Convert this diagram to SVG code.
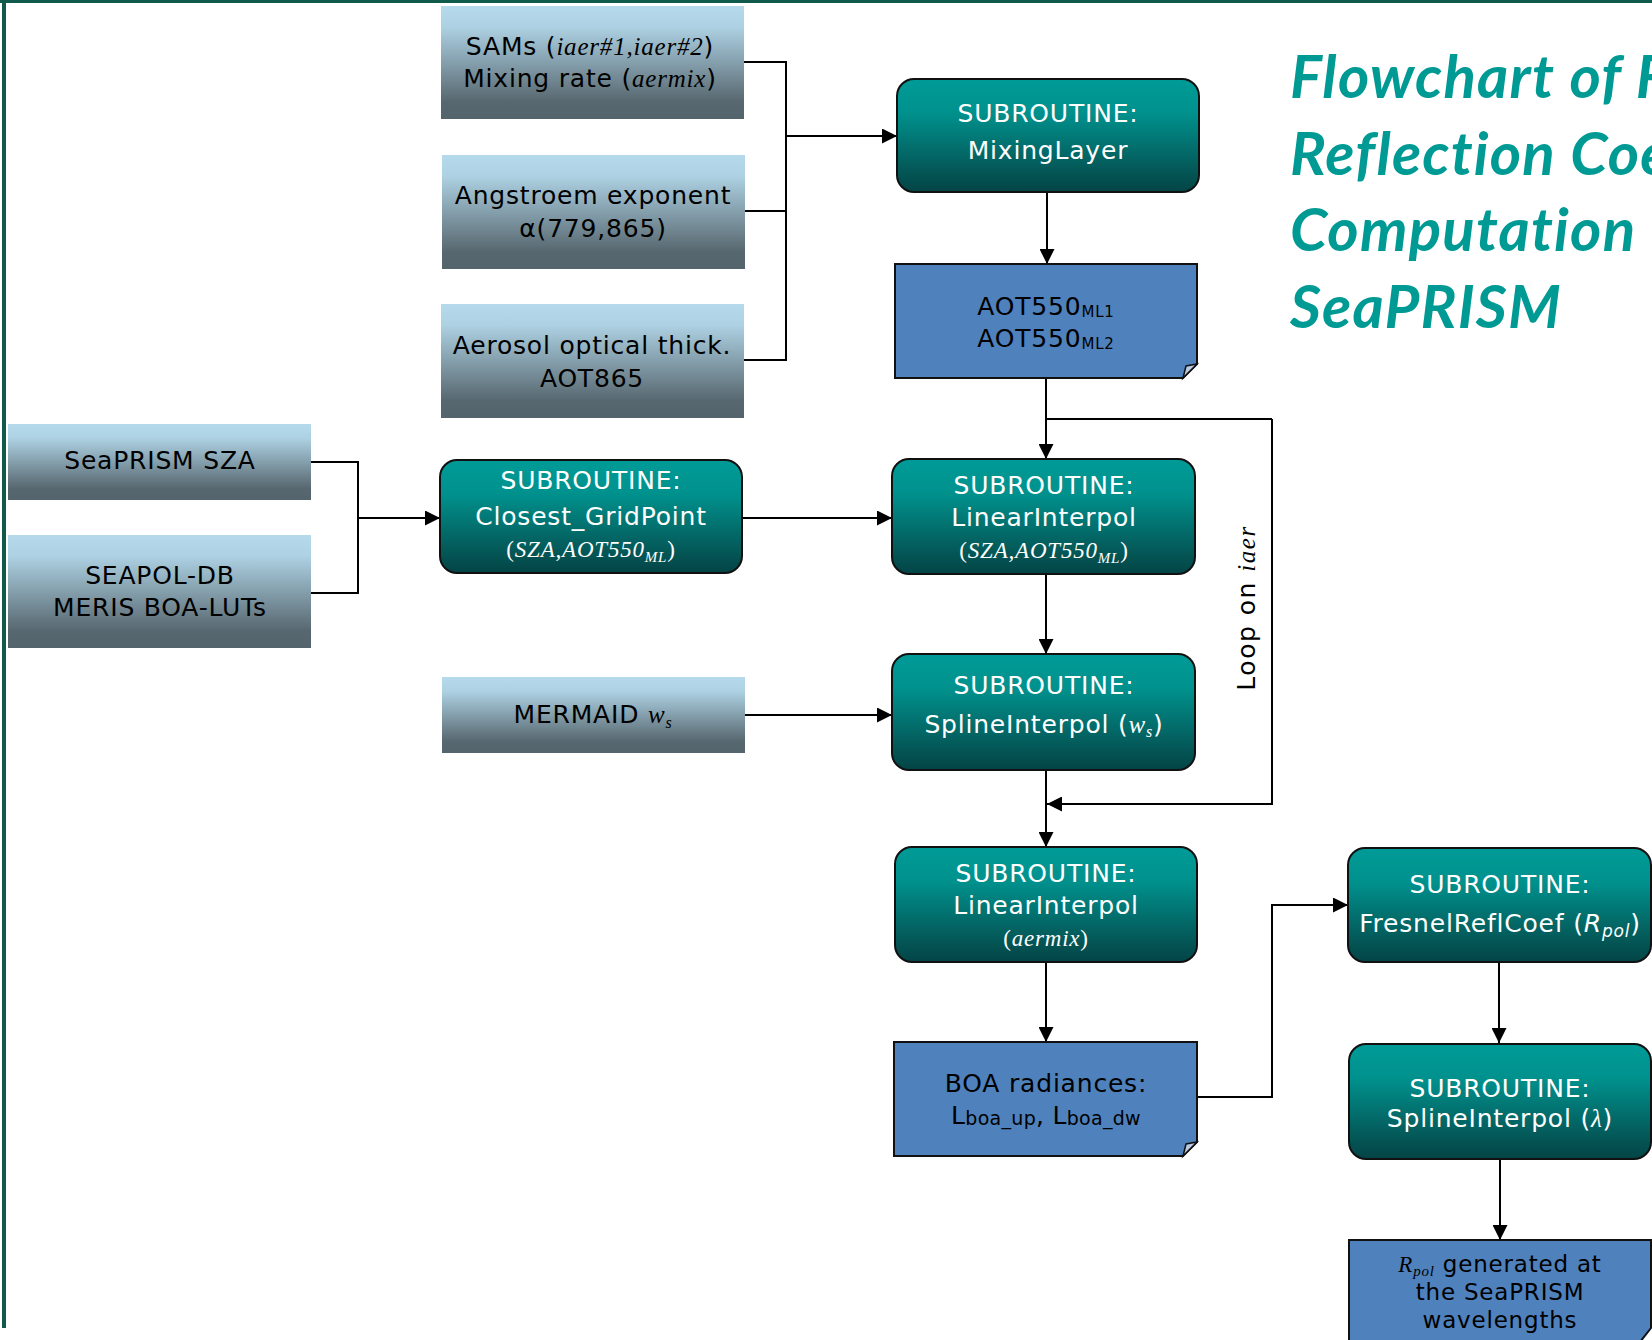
<svg xmlns="http://www.w3.org/2000/svg" width="1652" height="1340" viewBox="0 0 1652 1340">
<defs>
  <linearGradient id="gIn" x1="0" y1="0" x2="0" y2="1">
    <stop offset="0" stop-color="#b5daec"/>
    <stop offset="0.18" stop-color="#aed2e4"/>
    <stop offset="0.85" stop-color="#57676f"/>
    <stop offset="1" stop-color="#54646c"/>
  </linearGradient>
  <linearGradient id="gSub" x1="0" y1="0" x2="0" y2="1">
    <stop offset="0" stop-color="#009b97"/>
    <stop offset="0.3" stop-color="#00918d"/>
    <stop offset="0.85" stop-color="#045353"/>
    <stop offset="1" stop-color="#034446"/>
  </linearGradient>
  <marker id="arr" viewBox="0 0 10 10" refX="10" refY="5" markerUnits="userSpaceOnUse" markerWidth="16" markerHeight="15" orient="auto">
    <path d="M0,0 L10,5 L0,10 Z" fill="#000"/>
  </marker>
</defs>
<style>
  .t{font-family:"DejaVu Sans",Verdana,sans-serif;font-size:25px;letter-spacing:0.8px;text-anchor:middle}
  .dk{fill:#000}
  .wt{fill:#fff}
  .s{font-family:"Liberation Serif","Times New Roman",serif;font-style:italic}
  .sr{font-family:"Liberation Serif","Times New Roman",serif}
  .bin{fill:url(#gIn)}
  .bsub{fill:url(#gSub);stroke:#111;stroke-width:2}
  .doc{fill:#4f81bd;stroke:#111;stroke-width:2}
  .fold{fill:#b8c9e2;stroke:#111;stroke-width:1.5}
  .c{fill:none;stroke:#000;stroke-width:2}
  .ca{marker-end:url(#arr)}
  .title{font-family:Lato,"Open Sans",sans-serif;font-weight:700;font-style:italic;font-size:60px;letter-spacing:1.2px;fill:#009a94}
</style>
<rect width="1652" height="1340" fill="#fff"/>
<rect x="0" y="0" width="1652" height="3" fill="#0f5a4a"/>
<rect x="2" y="0" width="4" height="1328" fill="#0f5a4a"/>

<g id="title">
  <text class="title" x="1290" y="98">Flowchart of F</text>
  <text class="title" x="1290" y="175">Reflection Coe</text>
  <text class="title" x="1290" y="251">Computation f</text>
  <text class="title" x="1290" y="328">SeaPRISM</text>
</g>

<g id="connectors">
  <path class="c" d="M744,62 H786 V360 H744 M744,211 H786"/>
  <path class="c ca" d="M786,136 H897"/>
  <path class="c" d="M311,462 H358 V593 H309"/>
  <path class="c ca" d="M358,518 H440"/>
  <path class="c ca" d="M742,518 H892"/>
  <path class="c ca" d="M745,715 H892"/>
  <path class="c ca" d="M1047,192 V264"/>
  <path class="c ca" d="M1046,378 V459"/>
  <path class="c ca" d="M1272,419 H1046 M1272,419 V804 H1047"/>
  <path class="c ca" d="M1046,574 V654"/>
  <path class="c ca" d="M1046,770 V847"/>
  <path class="c ca" d="M1046,962 V1042"/>
  <path class="c ca" d="M1197,1097 H1272 V905 H1348"/>
  <path class="c ca" d="M1499,962 V1043"/>
  <path class="c ca" d="M1500,1159 V1240"/>
  <text class="t dk" transform="translate(1255,608) rotate(-90)" style="letter-spacing:1.5px">Loop on <tspan class="s">iaer</tspan></text>
</g>

<g id="n-sams">
  <rect class="bin" x="441" y="6" width="303" height="113"/>
  <text class="t dk" x="590" y="55">SAMs (<tspan class="s">iaer#1,iaer#2</tspan>)</text>
  <text class="t dk" x="590" y="87">Mixing rate (<tspan class="s">aermix</tspan>)</text>
</g>
<g id="n-angstroem">
  <rect class="bin" x="442" y="155" width="303" height="114"/>
  <text class="t dk" x="593" y="204">Angstroem exponent</text>
  <text class="t dk" x="593" y="237">α(779,865)</text>
</g>
<g id="n-aot865">
  <rect class="bin" x="441" y="304" width="303" height="114"/>
  <text class="t dk" x="592" y="354">Aerosol optical thick.</text>
  <text class="t dk" x="592" y="387">AOT865</text>
</g>
<g id="n-sza">
  <rect class="bin" x="8" y="424" width="303" height="76"/>
  <text class="t dk" x="160" y="469">SeaPRISM SZA</text>
</g>
<g id="n-seapol">
  <rect class="bin" x="8" y="535" width="303" height="113"/>
  <text class="t dk" x="160" y="584">SEAPOL-DB</text>
  <text class="t dk" x="160" y="616">MERIS BOA-LUTs</text>
</g>
<g id="n-mermaid">
  <rect class="bin" x="442" y="677" width="303" height="76"/>
  <text class="t dk" x="593" y="723">MERMAID <tspan class="s">w</tspan><tspan class="s" font-size="16" dy="5">s</tspan></text>
</g>
<g id="n-closest">
  <rect class="bsub" x="440" y="460" width="302" height="113" rx="17"/>
  <text class="t wt" x="591" y="489">SUBROUTINE:</text>
  <text class="t wt" x="591" y="525">Closest_GridPoint</text>
  <text class="t wt sr" x="591" y="557" style="font-size:23px">(<tspan class="s">SZA,AOT550</tspan><tspan class="s" font-size="15" dy="5">ML</tspan><tspan dy="-5">)</tspan></text>
</g>
<g id="n-mixing">
  <rect class="bsub" x="897" y="79" width="302" height="113" rx="17"/>
  <text class="t wt" x="1048" y="122">SUBROUTINE:</text>
  <text class="t wt" x="1048" y="159">MixingLayer</text>
</g>
<g id="n-aot550">
  <path class="doc" d="M895,264 H1197 V364 L1183,378 H895 Z"/>
  <path class="fold" d="M1197,364 L1186,366 L1183,378 Z"/>
  <text class="t dk" x="1046" y="315">AOT550<tspan font-size="15" dy="2">ML1</tspan></text>
  <text class="t dk" x="1046" y="347">AOT550<tspan font-size="15" dy="2">ML2</tspan></text>
</g>
<g id="n-linear1">
  <rect class="bsub" x="892" y="459" width="303" height="115" rx="17"/>
  <text class="t wt" x="1044" y="494">SUBROUTINE:</text>
  <text class="t wt" x="1044" y="526">LinearInterpol</text>
  <text class="t wt sr" x="1044" y="558" style="font-size:23px">(<tspan class="s">SZA,AOT550</tspan><tspan class="s" font-size="15" dy="5">ML</tspan><tspan dy="-5">)</tspan></text>
</g>
<g id="n-spline1">
  <rect class="bsub" x="892" y="654" width="303" height="116" rx="17"/>
  <text class="t wt" x="1044" y="694">SUBROUTINE:</text>
  <text class="t wt" x="1044" y="733">SplineInterpol (<tspan class="s">w</tspan><tspan class="s" font-size="16" dy="4">s</tspan><tspan dy="-4">)</tspan></text>
</g>
<g id="n-linear2">
  <rect class="bsub" x="895" y="847" width="302" height="115" rx="17"/>
  <text class="t wt" x="1046" y="882">SUBROUTINE:</text>
  <text class="t wt" x="1046" y="914">LinearInterpol</text>
  <text class="t wt sr" x="1046" y="946" style="font-size:23px">(<tspan class="s">aermix</tspan>)</text>
</g>
<g id="n-boa">
  <path class="doc" d="M894,1042 H1197 V1142 L1183,1156 H894 Z"/>
  <path class="fold" d="M1197,1142 L1186,1144 L1183,1156 Z"/>
  <text class="t dk" x="1046" y="1092">BOA radiances:</text>
  <text class="t dk" x="1046" y="1124" style="letter-spacing:0.3px">L<tspan font-size="19" dy="1">boa_up</tspan><tspan dy="-1">, L</tspan><tspan font-size="19" dy="1">boa_dw</tspan></text>
</g>
<g id="n-fresnel">
  <rect class="bsub" x="1348" y="848" width="303" height="114" rx="17"/>
  <text class="t wt" x="1500" y="893">SUBROUTINE:</text>
  <text class="t wt" x="1500" y="932">FresnelReflCoef (<tspan font-style="italic">R</tspan><tspan font-style="italic" font-size="17" dy="5">pol</tspan><tspan dy="-5">)</tspan></text>
</g>
<g id="n-spline2">
  <rect class="bsub" x="1349" y="1044" width="302" height="115" rx="17"/>
  <text class="t wt" x="1500" y="1097">SUBROUTINE:</text>
  <text class="t wt" x="1500" y="1127">SplineInterpol (<tspan class="s">λ</tspan>)</text>
</g>
<g id="n-rpol">
  <path class="doc" d="M1349,1240 H1651 V1328 L1640,1342 H1349 Z"/>
  <text class="t dk" x="1500" y="1272" style="font-size:23px"><tspan class="s">R</tspan><tspan class="s" font-size="15" dy="4">pol</tspan><tspan dy="-4"> generated at</tspan></text>
  <text class="t dk" x="1500" y="1300" style="font-size:23px">the SeaPRISM</text>
  <text class="t dk" x="1500" y="1328" style="font-size:23px">wavelengths</text>
</g>
</svg>
